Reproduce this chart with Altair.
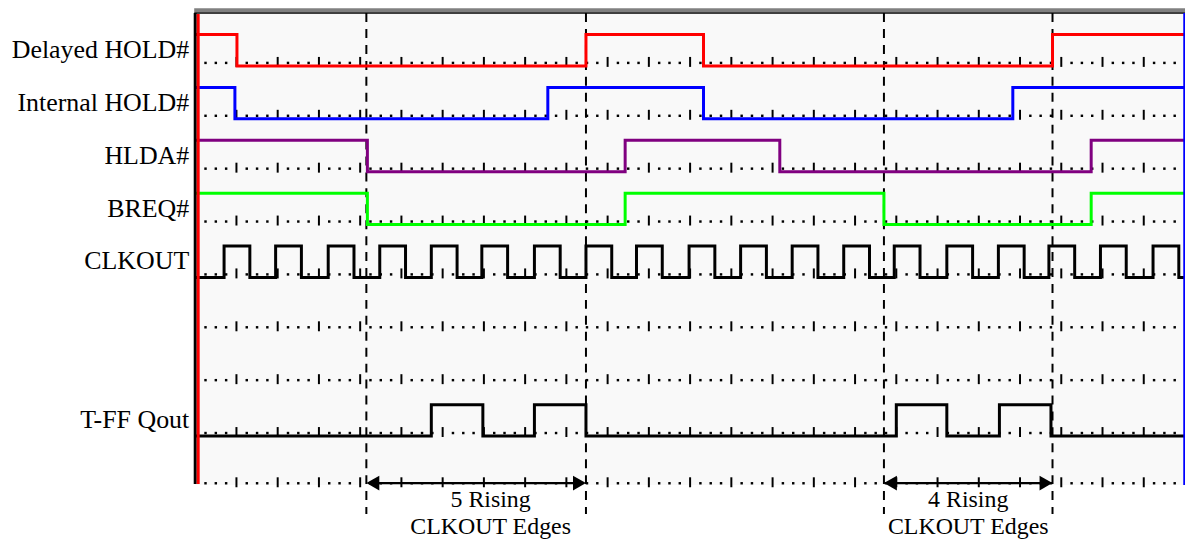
import altair as alt
import pandas as pd

# ---------------- data (time in scope minor divisions, 0..96) ----------------
T_END = 96.0
signal_names = ["Delayed HOLD#", "Internal HOLD#", "HLDA#", "BREQ#", "CLKOUT", "T-FF Qout"]
signal_lanes = [0, 1, 2, 3, 4, 7]
signal_colors = ["#ff0000", "#0000ff", "#800080", "#00ff00", "#000000", "#000000"]
signal_start = [1, 1, 1, 1, 0, 0]

delayed_hold_edges = [4.05, 37.9, 49.3, 83.15]
internal_hold_edges = [3.85, 34.2, 49.3, 79.3]
hlda_edges = [16.7, 41.7, 56.7, 86.9]
breq_edges = [16.7, 41.7, 66.8, 86.9]
clkout_edges = [2.8, 5.3, 7.8, 10.3, 12.9, 15.4, 17.9, 20.4, 22.9, 25.4,
                27.8, 30.3, 32.9, 35.4, 37.9, 40.4, 42.8, 45.3, 47.9, 50.4,
                52.9, 55.4, 57.9, 60.4, 62.9, 65.4, 67.8, 70.3, 72.9, 75.4,
                77.9, 80.4, 82.8, 85.3, 87.8, 90.3, 92.9, 95.4]
tff_edges = [22.9, 27.9, 32.9, 37.9, 68.0, 72.9, 78.0, 83.0]
all_edges = [delayed_hold_edges, internal_hold_edges, hlda_edges, breq_edges, clkout_edges, tff_edges]

marker_times = [16.6, 37.9, 66.8, 83.15]
span_pairs = [(16.6, 37.9), (66.8, 83.15)]
span_line1 = ["5 Rising", "4 Rising"]
span_line2 = ["CLKOUT Edges", "CLKOUT Edges"]

grid_rows = [0, 1, 2, 3, 4, 5, 6, 7, 7.95]

# ---------------- geometry / layout ----------------
PX = 53.1          # pixels per lane
W, H = 994, 533
Y_TOP = 12
Y0 = 62            # page y of lane-0 baseline
DMIN = (Y_TOP - Y0) / PX
DMAX = (Y_TOP + H - Y0) / PX
HIGH_OFF = -28.5 / PX
LOW_OFF = 3.0 / PX
TEXT_SHIFT = [1.4, 0.0]   # horizontal nudge of each annotation block (time units)

xs = alt.Scale(domain=[0, T_END], range=[0, W], nice=False, zero=False)
ys = alt.Scale(domain=[DMIN, DMAX], reverse=True, nice=False, zero=False)

def X(f):
    return alt.X(f, type="quantitative", scale=xs, axis=None)

def X2(f):
    return alt.X2(f)

def Y(f):
    return alt.Y(f, type="quantitative", scale=ys, axis=None)

def Y2(f):
    return alt.Y2(f)

# ---------------- tables ----------------
sig_rows = []
for name, lane, lvl0, edges in zip(signal_names, signal_lanes, signal_start, all_edges):
    lvl = lvl0
    sig_rows.append(dict(signal=name, t=0.0, lane=lane, level=lvl))
    for e in edges:
        lvl = 1 - lvl
        sig_rows.append(dict(signal=name, t=e, lane=lane, level=lvl))
    sig_rows.append(dict(signal=name, t=T_END, lane=lane, level=lvl))
sig = pd.DataFrame(sig_rows)
sig["v"] = sig["lane"] + sig["level"].map({1: HIGH_OFF, 0: LOW_OFF})

grid = []
for r in grid_rows:
    for k in range(1, 96):
        grid.append(dict(t=k, v=r, major=(k % 4 == 0)))
grid = pd.DataFrame(grid)
grid["va"] = grid["v"] - 6 / PX
grid["vb"] = grid["v"] + 4 / PX
minor = grid[~grid["major"]]
major = grid[grid["major"]]

labels = pd.DataFrame({"name": signal_names, "v": signal_lanes})
markers = pd.DataFrame({"t": marker_times})

ARROW_V = (484 - Y0) / PX
HEAD = 0.63
arrows = pd.DataFrame({
    "t0": [a + 1.0 for a, b in span_pairs],
    "t1": [b - 1.0 for a, b in span_pairs],
    "v": [ARROW_V] * len(span_pairs),
})
heads = pd.DataFrame({
    "t": [a + HEAD for a, b in span_pairs] + [b - HEAD for a, b in span_pairs],
    "shape": ["triangle-left"] * len(span_pairs) + ["triangle-right"] * len(span_pairs),
    "v": [ARROW_V] * (2 * len(span_pairs)),
})
centers = [(a + b) / 2 + s for (a, b), s in zip(span_pairs, TEXT_SHIFT)]
ann = pd.DataFrame({
    "t": centers + centers,
    "text": span_line1 + span_line2,
    "v": [(508 - Y0) / PX] * len(span_pairs) + [(535 - Y0) / PX] * len(span_pairs),
})

# ---------------- layers ----------------
bg = alt.Chart(pd.DataFrame({"t0": [0], "t1": [T_END], "v0": [DMIN], "v1": [(486 - Y0) / PX]})).mark_rect(
    color="#f9f9f9").encode(x=X("t0"), x2=X2("t1"), y=Y("v0"), y2=Y2("v1"))

dots = alt.Chart(minor).mark_square(size=6, color="#000000", opacity=1).encode(x=X("t"), y=Y("v"))
ticks = alt.Chart(major).mark_rule(color="#000000", strokeWidth=2).encode(x=X("t"), y=Y("va"), y2=Y2("vb"))

dashes = alt.Chart(markers).mark_rule(color="#000000", strokeWidth=2, strokeDash=[9, 7]).encode(
    x=X("t"), y=alt.value(0), y2=alt.value(503))

lines = alt.Chart(sig).mark_line(interpolate="step-after", strokeWidth=3).encode(
    x=X("t"), y=Y("v"), detail="signal:N",
    color=alt.Color("signal:N", scale=alt.Scale(domain=signal_names, range=signal_colors), legend=None))

frame_df = pd.DataFrame({"k": [0]})
gray_top = alt.Chart(frame_df).mark_rule(color="#808080", strokeWidth=4).encode(
    x=alt.value(-1), x2=alt.value(W), y=alt.value(-3))
black_top = alt.Chart(frame_df).mark_rule(color="#000000", strokeWidth=1.5).encode(
    x=alt.value(-1), x2=alt.value(W), y=alt.value(0))
black_left = alt.Chart(frame_df).mark_rule(color="#000000", strokeWidth=3).encode(
    x=alt.value(0), y=alt.value(0), y2=alt.value(473))
red_left = alt.Chart(frame_df).mark_rule(color="#ff0000", strokeWidth=3).encode(
    x=alt.value(3), y=alt.value(1), y2=alt.value(473))
blue_right = alt.Chart(frame_df).mark_rule(color="#0000ff", strokeWidth=2.5).encode(
    x=alt.value(W - 0.5), y=alt.value(0), y2=alt.value(474))

lab = alt.Chart(labels).mark_text(
    font="Liberation Serif", fontSize=26, align="right", baseline="alphabetic", color="#000000", dy=-5
).encode(x=alt.value(-6), y=Y("v"), text="name:N")

arrow_lines = alt.Chart(arrows).mark_rule(color="#000000", strokeWidth=2.5).encode(
    x=X("t0"), x2=X2("t1"), y=Y("v"))
arrow_heads = alt.Chart(heads).mark_point(filled=True, color="#000000", size=225, opacity=1).encode(
    x=X("t"), y=Y("v"), shape=alt.Shape("shape:N", scale=None))

ann_text = alt.Chart(ann).mark_text(
    font="Liberation Serif", fontSize=24, align="center", baseline="alphabetic", color="#000000"
).encode(x=X("t"), y=Y("v"), text="text:N")

chart = alt.layer(
    bg, dots, ticks, dashes, lines, gray_top, black_top, black_left, red_left, blue_right,
    lab, arrow_lines, arrow_heads, ann_text
).properties(
    width=W, height=H,
    padding={"left": 188, "top": 4, "right": 0, "bottom": 0},
    autosize=alt.AutoSizeParams(type="none"),
    background="#ffffff",
).configure_view(stroke=None)

chart.save("out.html", embed_options={"renderer": "svg", "actions": False})
